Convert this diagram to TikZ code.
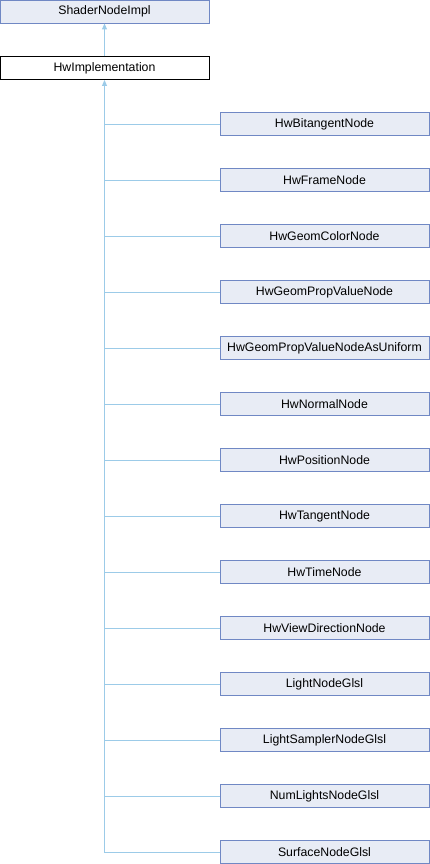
\documentclass[tikz,border=0pt]{standalone}
\usepackage{fontspec}
\setmainfont{Liberation Sans}
\usetikzlibrary{arrows.meta}
\definecolor{boxfill}{HTML}{E8ECF5}
\definecolor{boxdraw}{HTML}{7088C4}
\definecolor{edge}{HTML}{9CCBE8}
\begin{document}
\begin{tikzpicture}[x=1pt,y=-1pt,
  cls/.style={draw=boxdraw,fill=boxfill,line width=0.9pt,minimum width=209pt,minimum height=23pt,inner sep=0pt,font=\fontsize{12.3}{14}\selectfont},
  cur/.style={draw=black,fill=white,line width=0.9pt,minimum width=209pt,minimum height=23pt,inner sep=0pt,font=\fontsize{12.3}{14}\selectfont},
  inh/.style={draw=edge,line width=0.9pt},
  arr/.style={inh,-{Triangle[width=5pt,length=6pt]}}]
\useasboundingbox (0,0) rectangle (430,864);
\node[cls] (base) at (104.5,11.5) {ShaderNodeImpl};
\node[cur] (hw) at (104.5,68) {HwImplementation};
\foreach \n/\t [count=\i from 0] in {c1/HwBitangentNode,c2/HwFrameNode,c3/HwGeomColorNode,c4/HwGeomPropValueNode,c5/HwGeomPropValueNodeAsUniform,c6/HwNormalNode,c7/HwPositionNode,c8/HwTangentNode,c9/HwTimeNode,c10/HwViewDirectionNode,c11/LightNodeGlsl,c12/LightSamplerNodeGlsl,c13/NumLightsNodeGlsl,c14/SurfaceNodeGlsl}{
  \node[cls] (\n) at (324.5,{124+56*\i}) {\t};
}
\draw[arr] (hw.north) -- (base.south);
\draw[arr] (c14.west) -| (hw.south);
\foreach \n in {c1,c2,c3,c4,c5,c6,c7,c8,c9,c10,c11,c12,c13}{
  \draw[inh] (\n.west) -- (\n.west -| hw.south);
}
\end{tikzpicture}
\end{document}
